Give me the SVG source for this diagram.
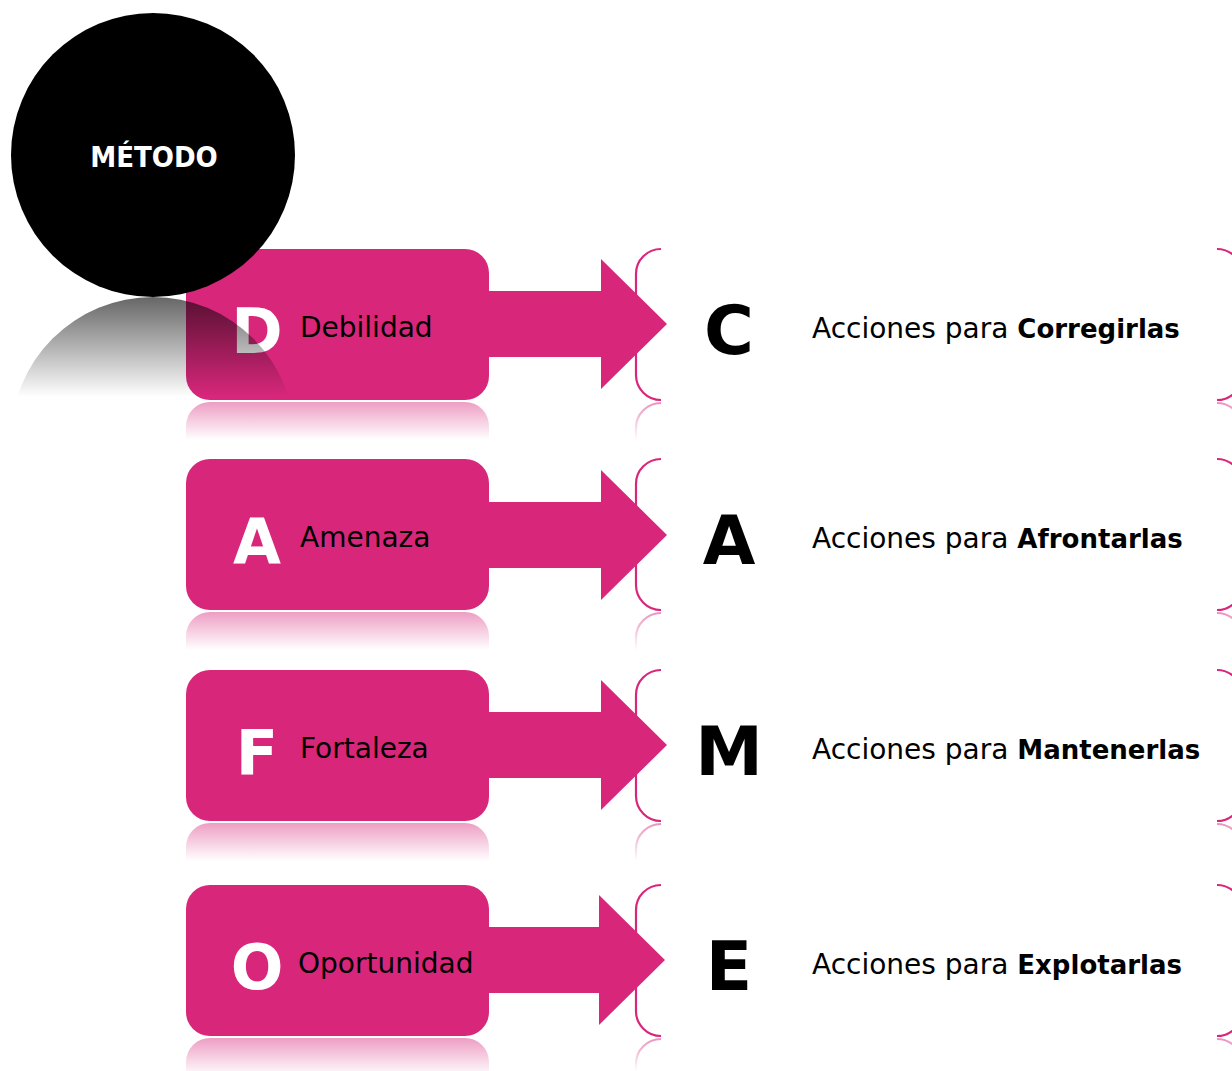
<svg xmlns="http://www.w3.org/2000/svg" width="1232" height="1071" viewBox="0 0 1232 1071">
<defs>
<style>
.box{fill:#D8277B}
.arr{fill:#D8277B}
.brk{fill:none;stroke:#D8277B;stroke-width:2.2}
.brkr{fill:none;stroke:url(#fadeStroke);stroke-width:2.2}
.ini{font-family:"DejaVu Sans","Liberation Sans",sans-serif;font-weight:bold;font-size:62px;fill:#fff;text-anchor:middle}
.lbl{font-family:"DejaVu Sans","Liberation Sans",sans-serif;font-size:28px;fill:#000}
.big{font-family:"DejaVu Sans","Liberation Sans",sans-serif;font-weight:bold;font-size:68px;fill:#000;text-anchor:middle}
.act{font-family:"DejaVu Sans","Liberation Sans",sans-serif;font-size:28px;fill:#000}
.act tspan.b{font-weight:bold;font-size:26px}
.refl{fill:url(#pinkFade)}
</style>
<linearGradient id="pinkFade" x1="0" y1="0" x2="0" y2="1">
<stop offset="0" stop-color="#D8277B" stop-opacity="0.45"/>
<stop offset="1" stop-color="#D8277B" stop-opacity="0"/>
</linearGradient>
<linearGradient id="fadeStroke" x1="0" y1="0" x2="0" y2="1">
<stop offset="0" stop-color="#D8277B" stop-opacity="0.5"/>
<stop offset="1" stop-color="#D8277B" stop-opacity="0"/>
</linearGradient>
<linearGradient id="greyFade" gradientUnits="userSpaceOnUse" x1="0" y1="297" x2="0" y2="397">
<stop offset="0" stop-color="#000" stop-opacity="0.6"/>
<stop offset="1" stop-color="#000" stop-opacity="0"/>
</linearGradient>
<clipPath id="circClip"><rect x="0" y="297" width="320" height="103"/></clipPath>
</defs>

<g id="row-D">
<rect class="box" x="186" y="249" width="303" height="151" rx="24"/>
<path class="refl" d="M186 440 V426 A24 24 0 0 1 210 402 H465 A24 24 0 0 1 489 426 V440 Z"/>
<text class="ini" x="257" y="353">D</text>
<text class="lbl" x="300" y="337">Debilidad</text>
</g>

<g id="circle-metodo">
<circle cx="153" cy="155" r="142" fill="#000"/>
<text x="154" y="167" font-family="DejaVu Sans Condensed, DejaVu Sans, sans-serif" font-weight="bold" font-size="29" fill="#fff" text-anchor="middle">MÉTODO</text>
<circle cx="153" cy="439" r="142" fill="url(#greyFade)" clip-path="url(#circClip)"/>
</g>

<g id="row-A">
<rect class="box" x="186" y="459" width="303" height="151" rx="24"/>
<path class="refl" d="M186 650 V636 A24 24 0 0 1 210 612 H465 A24 24 0 0 1 489 636 V650 Z"/>
<text class="ini" x="257" y="563">A</text>
<text class="lbl" x="300" y="547">Amenaza</text>
</g>

<g id="row-F">
<rect class="box" x="186" y="670" width="303" height="151" rx="24"/>
<path class="refl" d="M186 861 V847 A24 24 0 0 1 210 823 H465 A24 24 0 0 1 489 847 V861 Z"/>
<text class="ini" x="257" y="774">F</text>
<text class="lbl" x="300" y="758">Fortaleza</text>
</g>

<g id="row-O">
<rect class="box" x="186" y="885" width="303" height="151" rx="24"/>
<path class="refl" d="M186 1076 V1062 A24 24 0 0 1 210 1038 H465 A24 24 0 0 1 489 1062 V1076 Z"/>
<text class="ini" x="257" y="989">O</text>
<text class="lbl" x="298" y="973">Oportunidad</text>
</g>

<g id="connectors">
<path class="arr" d="M489 291 H601 V259 L667 324 L601 389 V357 H489 Z"/>
<path class="arr" d="M489 502 H601 V470 L667 535 L601 600 V568 H489 Z"/>
<path class="arr" d="M489 712 H601 V680 L667 745 L601 810 V778 H489 Z"/>
<path class="arr" d="M489 927 H599 V895 L665 960 L599 1025 V993 H489 Z"/>
</g>

<g id="bracket-C">
<path class="brk" d="M661 249 A25 25 0 0 0 636 274 V375 A25 25 0 0 0 661 400"/>
<path class="brk" d="M1217 249 A25 25 0 0 1 1242 274 V375 A25 25 0 0 1 1217 400"/>
<path class="brkr" d="M661 403 A25 25 0 0 0 636 428 V440"/>
<path class="brkr" d="M1217 403 A25 25 0 0 1 1242 428 V440"/>
<text class="big" x="729" y="354">C</text>
<text class="act" x="812" y="338">Acciones para <tspan class="b">Corregirlas</tspan></text>
</g>

<g id="bracket-A">
<path class="brk" d="M661 459 A25 25 0 0 0 636 484 V585 A25 25 0 0 0 661 610"/>
<path class="brk" d="M1217 459 A25 25 0 0 1 1242 484 V585 A25 25 0 0 1 1217 610"/>
<path class="brkr" d="M661 613 A25 25 0 0 0 636 638 V650"/>
<path class="brkr" d="M1217 613 A25 25 0 0 1 1242 638 V650"/>
<text class="big" x="729" y="564">A</text>
<text class="act" x="812" y="548">Acciones para <tspan class="b">Afrontarlas</tspan></text>
</g>

<g id="bracket-M">
<path class="brk" d="M661 670 A25 25 0 0 0 636 695 V796 A25 25 0 0 0 661 821"/>
<path class="brk" d="M1217 670 A25 25 0 0 1 1242 695 V796 A25 25 0 0 1 1217 821"/>
<path class="brkr" d="M661 824 A25 25 0 0 0 636 849 V861"/>
<path class="brkr" d="M1217 824 A25 25 0 0 1 1242 849 V861"/>
<text class="big" x="729" y="775">M</text>
<text class="act" x="812" y="759">Acciones para <tspan class="b">Mantenerlas</tspan></text>
</g>

<g id="bracket-E">
<path class="brk" d="M661 885 A25 25 0 0 0 636 910 V1011 A25 25 0 0 0 661 1036"/>
<path class="brk" d="M1217 885 A25 25 0 0 1 1242 910 V1011 A25 25 0 0 1 1217 1036"/>
<path class="brkr" d="M661 1039 A25 25 0 0 0 636 1064 V1071"/>
<path class="brkr" d="M1217 1039 A25 25 0 0 1 1242 1064 V1071"/>
<text class="big" x="729" y="990">E</text>
<text class="act" x="812" y="974">Acciones para <tspan class="b">Explotarlas</tspan></text>
</g>
</svg>
